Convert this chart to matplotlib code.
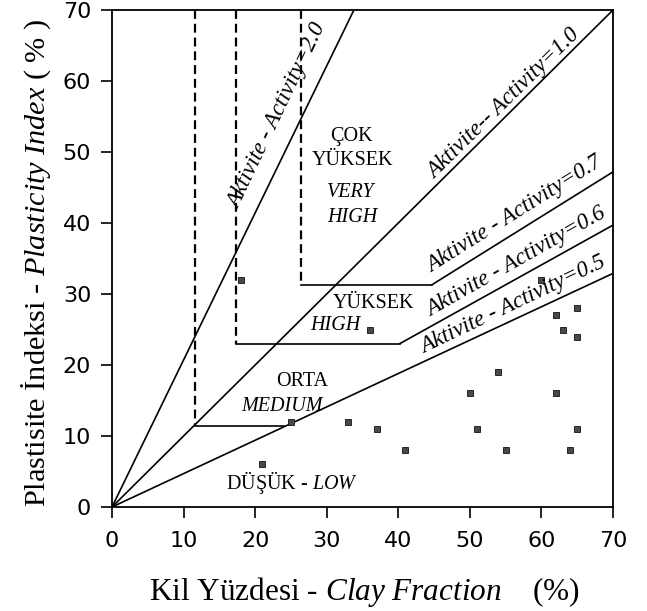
import matplotlib
matplotlib.use("Agg")
import matplotlib.pyplot as plt
import numpy as np

# ---- data ----
clay = [18, 21, 25, 33, 36, 37, 41, 50, 51, 54, 55, 60, 62, 62, 63, 64, 65, 65, 65]
pi   = [32, 6, 12, 12, 25, 11, 8, 16, 11, 19, 8, 32, 27, 16, 25, 8, 28, 24, 11]

# activity lines through the origin: end points (clay, PI)
origin_line_x = [33.8, 70.0, 70.0]
origin_line_y = [70.0, 70.0, 32.9]

# zone boundaries: dashed vertical x, horizontal PI, knee x, PI at clay=70
zone_x     = [26.4, 17.3, 11.6]
zone_y     = [31.3, 23.0, 11.4]
zone_knee  = [44.7, 40.2, 24.0]
zone_end_y = [47.2, 39.7, None]

activity_labels = ["Aktivite - Activity=2.0", "Aktivite-- Activity=1.0",
                   "Aktivite - Activity=0.7", "Aktivite - Activity=0.6",
                   "Aktivite - Activity=0.5"]
xticks = [0, 10, 20, 30, 40, 50, 60, 70]
yticks = [0, 10, 20, 30, 40, 50, 60, 70]

plt.rcParams['mathtext.fontset'] = 'custom'
plt.rcParams['mathtext.rm'] = 'Liberation Serif'
plt.rcParams['mathtext.it'] = 'Liberation Serif:italic'

fig = plt.figure(figsize=(6.47, 6.11), dpi=100)
ax = fig.add_axes([112/647, (611-507)/611, 501/647, 497/611])
ax.set_xlim(0, 70)
ax.set_ylim(0, 70)

lw = 1.2
for ex, ey in zip(origin_line_x, origin_line_y):
    ax.plot([0, ex], [0, ey], color='black', lw=lw, solid_capstyle='butt')

dash = (0, (4, 2.2))
for i in range(3):
    zx, zy, kx, ey = zone_x[i], zone_y[i], zone_knee[i], zone_end_y[i]
    ax.plot([zx, zx], [70, zy], color='black', lw=1.6, linestyle=dash)
    ax.plot([zx, kx], [zy, zy], color='black', lw=lw)
    if ey is not None:
        ax.plot([kx, 70], [zy, ey], color='black', lw=lw)

ax.plot(clay, pi, linestyle='none', marker='s', markersize=3.8,
        markerfacecolor='#4a4a4a', markeredgecolor='#111111', markeredgewidth=0.6)

serif = 'Liberation Serif'
afs = 16.5
# activity labels: (x, y, rotation)
act_pos = [(23.1, 55.0, 64.5), (54.8, 56.8, 44.5), (56.3, 41.2, 32.0),
           (56.5, 34.5, 29.5), (56.0, 28.5, 25.5)]
for lab, (x, y, r) in zip(activity_labels, act_pos):
    ax.text(x, y, lab, family=serif, style='italic', fontsize=afs,
            rotation=r, rotation_mode='anchor', ha='center', va='center')

rfs = 14.5
ax.text(33.5, 52.2, "ÇOK", family=serif, fontsize=rfs, ha='center', va='center')
ax.text(33.6, 48.8, "YÜKSEK", family=serif, fontsize=rfs, ha='center', va='center')
ax.text(33.3, 44.3, "VERY", family=serif, style='italic', fontsize=rfs, ha='center', va='center')
ax.text(33.6, 40.8, "HIGH", family=serif, style='italic', fontsize=rfs, ha='center', va='center')
ax.text(36.5, 28.7, "YÜKSEK", family=serif, fontsize=rfs, ha='center', va='center')
ax.text(31.2, 25.6, "HIGH", family=serif, style='italic', fontsize=rfs, ha='center', va='center')
ax.text(26.5, 17.7, "ORTA", family=serif, fontsize=rfs, ha='center', va='center')
ax.text(23.7, 14.2, "MEDIUM", family=serif, style='italic', fontsize=rfs, ha='center', va='center')
ax.text(25.1, 3.4, r"DÜŞÜK - $\mathit{LOW}$", family=serif, fontsize=rfs, ha='center', va='center')

ax.set_xticks(xticks)
ax.set_yticks(yticks)
ax.set_xticklabels([str(v) for v in xticks], family='DejaVu Sans', fontsize=16)
ax.set_yticklabels([str(v) for v in yticks], family='DejaVu Sans', fontsize=16)
ax.tick_params(axis='both', direction='out', length=8, width=1.2)
ax.tick_params(axis='x', pad=9)
ax.tick_params(axis='y', pad=7)
for s in ax.spines.values():
    s.set_linewidth(1.3)

fig.text(364/647, (611-600)/611, r"Kil Yüzdesi - $\mathit{Clay\ Fraction}$    (%)",
         family=serif, fontsize=22.5, ha='center', va='baseline')
fig.text(45/647, (611-507)/611, r"Plastisite İndeksi - $\mathit{Plasticity\ Index}$ ( % )",
         family=serif, fontsize=21.8, rotation=90, rotation_mode='anchor',
         ha='left', va='baseline')

fig.savefig("out.png", dpi=100)
